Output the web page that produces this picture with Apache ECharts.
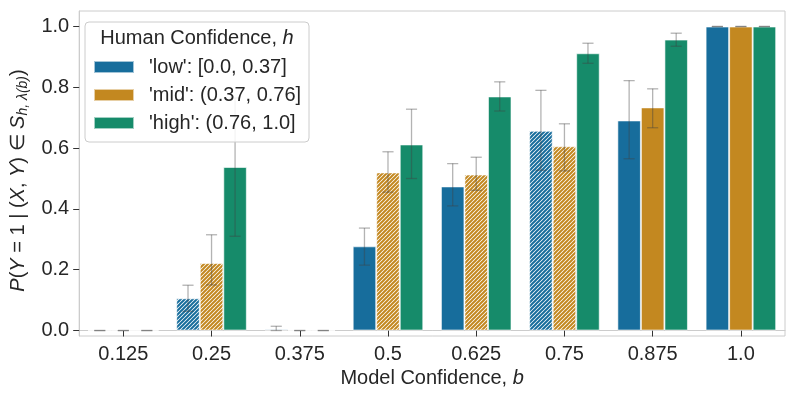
<!DOCTYPE html>
<html>
<head>
<meta charset="utf-8">
<script src="https://cdn.jsdelivr.net/npm/echarts@6/dist/echarts.min.js"></script>
<style>
  html, body { margin: 0; padding: 0; background: #fff; }
  #chart { width: 797px; height: 399px; }
</style>
</head>
<body>
<div id="chart"></div>
<script>
// categories (model confidence b)
const categories = ['0.125', '0.25', '0.375', '0.5', '0.625', '0.75', '0.875', '1.0']
const seriesNames = ["'low': [0.0, 0.37]", "'mid': (0.37, 0.76]", "'high': (0.76, 1.0]"]

// bar heights
const lowVals = [0, 0.106, 0.004, 0.277, 0.474, 0.657, 0.691, 1.0]
const midVals = [0, 0.222, 0, 0.520, 0.513, 0.606, 0.734, 1.0]
const highVals = [0, 0.538, 0, 0.612, 0.770, 0.912, 0.957, 1.0]

// error bar ends
const lowErrLo = [0, 0.063, 0, 0.215, 0.410, 0.527, 0.565, 1.0]
const lowErrHi = [0, 0.149, 0.014, 0.337, 0.549, 0.790, 0.822, 1.0]
const midErrLo = [0, 0.150, 0, 0.455, 0.461, 0.525, 0.667, 1.0]
const midErrHi = [0, 0.315, 0, 0.588, 0.570, 0.680, 0.795, 1.0]
const highErrLo = [0, 0.310, 0, 0.500, 0.722, 0.879, 0.935, 1.0]
const highErrHi = [0, 0.765, 0, 0.728, 0.818, 0.945, 0.978, 1.0]

// which bars are hatched
const lowHatched = [false, true, false, false, false, true, false, false]
const midHatched = [false, true, false, true, true, true, false, false]
const highHatched = [false, false, false, false, false, false, false, false]

// y axis tick labels
const yTicks = [0, 0.2, 0.4, 0.6, 0.8, 1.0]

const colors = ['#176d9c', '#c38820', '#168b6a']
const font = '"Liberation Sans", Arial, sans-serif'
const textColor = '#262626'
const fs = 20

// diagonal "////" hatch pattern
function hatch(color) {
  const c = document.createElement('canvas')
  c.width = 4
  c.height = 4
  const ctx = c.getContext('2d')
  ctx.fillStyle = '#fff'
  ctx.fillRect(0, 0, 4, 4)
  ctx.strokeStyle = color
  ctx.lineWidth = 2
  ctx.beginPath()
  ctx.moveTo(-1, 5); ctx.lineTo(5, -1)
  ctx.moveTo(-1, 1); ctx.lineTo(1, -1)
  ctx.moveTo(3, 5); ctx.lineTo(5, 3)
  ctx.stroke()
  return { image: c, repeat: 'repeat' }
}

const valsAll = [lowVals, midVals, highVals]
const hatchAll = [lowHatched, midHatched, highHatched]
const errLoAll = [lowErrLo, midErrLo, highErrLo]
const errHiAll = [lowErrHi, midErrHi, highErrHi]

const barSeries = valsAll.map((vals, s) => {
  const pattern = hatch(colors[s])
  return {
    name: seriesNames[s],
    type: 'bar',
    barGap: 0,
    barCategoryGap: '20%',
    itemStyle: {
      color: colors[s],
      borderColor: 'rgba(255,255,255,0.6)',
      borderWidth: 1
    },
    data: vals.map((v, i) => {
      if (hatchAll[s][i]) {
        return { value: v, itemStyle: { color: pattern } }
      }
      return v
    }),
    z: 2
  }
})

// error bars as a custom series
const errData = []
errLoAll.forEach((lo, s) => {
  lo.forEach((v, i) => {
    errData.push([i, v, errHiAll[s][i], s])
  })
})

const errSeries = {
  type: 'custom',
  z: 5,
  silent: true,
  encode: { x: 0, y: [1, 2] },
  data: errData,
  renderItem(params, api) {
    const c = api.value(0)
    const s = api.value(3)
    const band = api.size([1, 0])[0]
    const off = (s - 1) * band * 0.8 / 3
    const pLo = api.coord([c, api.value(1)])
    const pHi = api.coord([c, api.value(2)])
    const x = pLo[0] + off
    const half = band * 0.063
    const style = { stroke: 'rgba(64,64,64,0.4)', lineWidth: 1.3 }
    return {
      type: 'group',
      children: [
        { type: 'line', shape: { x1: x, y1: pLo[1], x2: x, y2: pHi[1] }, style },
        { type: 'line', shape: { x1: x - half, y1: pLo[1], x2: x + half, y2: pLo[1] }, style },
        { type: 'line', shape: { x1: x - half, y1: pHi[1], x2: x + half, y2: pHi[1] }, style }
      ]
    }
  }
}

const chart = echarts.init(document.getElementById('chart'), null, { renderer: 'canvas' })

const option = {
  animation: false,
  backgroundColor: '#fff',
  color: colors,
  textStyle: { fontFamily: font },
  grid: {
    left: 76,
    right: 12,
    top: 11,
    bottom: 63,
    show: true,
    borderColor: '#cccccc',
    borderWidth: 1
  },
  xAxis: {
    type: 'category',
    data: categories,
    axisLine: { show: true, lineStyle: { color: '#cccccc' } },
    axisTick: { show: true, alignWithLabel: true, length: 6, lineStyle: { color: '#333' } },
    axisLabel: { color: textColor, fontSize: fs, margin: 8, fontFamily: font },
    name: '{n|Model Confidence, }{i|b}',
    nameLocation: 'middle',
    nameGap: 30,
    nameTextStyle: {
      rich: {
        n: { fontSize: fs, color: textColor, fontFamily: font },
        i: { fontSize: fs, color: textColor, fontFamily: font, fontStyle: 'italic' }
      }
    }
  },
  yAxis: {
    type: 'value',
    min: -0.018,
    max: 1.051,
    splitLine: { show: false },
    axisLine: { show: true, lineStyle: { color: '#cccccc' } },
    axisTick: { show: true, length: 6, customValues: yTicks, lineStyle: { color: '#333' } },
    axisLabel: {
      customValues: yTicks,
      color: textColor,
      fontSize: fs,
      margin: 10,
      fontFamily: font,
      formatter: (v) => v.toFixed(1)
    },
    name: '{i|P}{n|(}{i|Y}{n| = 1 | (}{i|X}{n|, }{i|Y}{n|) ∈ }{i|S}{s|h, λ(b)}{n|)}',
    nameLocation: 'middle',
    nameRotate: 90,
    nameGap: 44,
    nameTextStyle: {
      padding: [0, 14, 0, 0],
      rich: {
        n: { fontSize: fs, color: textColor, fontFamily: font, lineHeight: 25 },
        i: { fontSize: fs, color: textColor, fontFamily: font, fontStyle: 'italic', lineHeight: 25 },
        s: { fontSize: 14, color: textColor, fontFamily: font, fontStyle: 'italic', verticalAlign: 'bottom', lineHeight: 25 }
      }
    }
  },
  legend: {
    orient: 'vertical',
    left: 93,
    top: 57,
    padding: 0,
    itemWidth: 40,
    itemHeight: 12,
    itemGap: 8,
    icon: 'rect',
    selectedMode: false,
    z: 60,
    textStyle: { fontSize: fs, color: textColor, fontFamily: font, padding: [0, 0, 0, 10] },
    data: seriesNames
  },
  graphic: [
    {
      type: 'rect',
      z: 50,
      shape: { x: 85, y: 22, width: 224, height: 120, r: 4 },
      style: { fill: 'rgba(255,255,255,0.85)', stroke: '#cccccc', lineWidth: 1 }
    },
    {
      type: 'text',
      z: 51,
      x: 197,
      y: 38,
      style: {
        text: '{n|Human Confidence, }{i|h}',
        align: 'center',
        verticalAlign: 'middle',
        rich: {
          n: { fontSize: fs, fill: textColor, fontFamily: font },
          i: { fontSize: fs, fill: textColor, fontFamily: font, fontStyle: 'italic' }
        }
      }
    }
  ],
  series: [...barSeries, errSeries]
}

chart.setOption(option)
</script>
</body>
</html>
